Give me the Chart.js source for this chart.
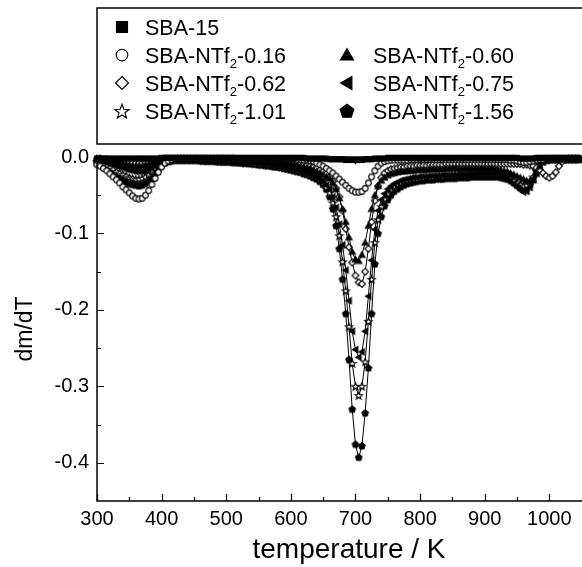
<!DOCTYPE html>
<html>
<head>
<meta charset="utf-8">
<script src="https://cdn.jsdelivr.net/npm/chart.js@4.4.1/dist/chart.umd.min.js"></script>
<style>
  html, body { margin: 0; padding: 0; background: #fff; overflow: hidden; }
  canvas { display: block; }
</style>
</head>
<body>
<canvas id="dtg" width="606" height="567"></canvas>
<script>
// temperature grid (K)
const temperature = [
  300, 305, 310, 315, 320, 325, 330, 335, 340, 345,
  350, 355, 360, 365, 370, 375, 380, 385, 390, 395,
  400, 405, 410, 415, 420, 425, 430, 435, 440, 445,
  450, 455, 460, 465, 470, 475, 480, 485, 490, 495,
  500, 505, 510, 515, 520, 525, 530, 535, 540, 545,
  550, 555, 560, 565, 570, 575, 580, 585, 590, 595,
  600, 605, 610, 615, 620, 625, 630, 635, 640, 645,
  650, 655, 660, 665, 670, 675, 680, 685, 690, 695,
  700, 705, 710, 715, 720, 725, 730, 735, 740, 745,
  750, 755, 760, 765, 770, 775, 780, 785, 790, 795,
  800, 805, 810, 815, 820, 825, 830, 835, 840, 845,
  850, 855, 860, 865, 870, 875, 880, 885, 890, 895,
  900, 905, 910, 915, 920, 925, 930, 935, 940, 945,
  950, 955, 960, 965, 970, 975, 980, 985, 990, 995,
  1000, 1005, 1010, 1015, 1020, 1025, 1030, 1035, 1040, 1045
];

// dm/dT curves
const sba15 = [
  -0.002, -0.002, -0.002, -0.002, -0.002, -0.002, -0.002, -0.002, -0.002, -0.002,
  -0.002, -0.002, -0.002, -0.002, -0.002, -0.002, -0.002, -0.002, -0.002, -0.002,
  -0.001, -0.001, -0.001, -0.001, -0.001, -0.001, -0.001, -0.001, -0.001, -0.001,
  -0.001, -0.001, -0.001, -0.001, -0.001, -0.001, -0.001, -0.001, -0.001, -0.001,
  -0.001, -0.001, -0.001, -0.001, -0.001, -0.001, -0.001, -0.001, -0.001, -0.001,
  -0.001, -0.001, -0.001, -0.001, -0.001, -0.001, -0.001, -0.001, -0.001, -0.001,
  -0.001, -0.001, -0.001, -0.001, -0.001, -0.002, -0.002, -0.002, -0.002, -0.002,
  -0.002, -0.002, -0.003, -0.003, -0.003, -0.003, -0.003, -0.004, -0.004, -0.004,
  -0.004, -0.004, -0.004, -0.003, -0.003, -0.003, -0.002, -0.002, -0.002, -0.002,
  -0.001, -0.001, -0.001, -0.001, -0.001, -0.001, -0.001, -0.001, -0.001, -0.001,
  -0.001, -0.001, -0.001, -0.001, -0.001, -0.001, -0.001, -0.001, -0.001, -0.001,
  -0.001, -0.001, -0.001, -0.001, -0.001, -0.001, -0.001, -0.001, -0.001, -0.001,
  -0.001, -0.001, -0.001, -0.001, -0.001, -0.001, -0.001, -0.001, -0.001, -0.001,
  -0.001, -0.002, -0.002, -0.002, -0.002, -0.002, -0.001, -0.001, -0.001, -0.001,
  -0.001, -0.001, -0.001, -0.001, -0.001, -0.001, -0.001, -0.001, -0.001, -0.001
];
const ntf016 = [
  -0.010, -0.012, -0.015, -0.018, -0.022, -0.026, -0.030, -0.034, -0.039, -0.043,
  -0.047, -0.051, -0.054, -0.055, -0.054, -0.050, -0.044, -0.036, -0.028, -0.020,
  -0.013, -0.008, -0.005, -0.003, -0.002, -0.002, -0.002, -0.002, -0.002, -0.002,
  -0.002, -0.002, -0.002, -0.002, -0.002, -0.002, -0.002, -0.002, -0.002, -0.002,
  -0.002, -0.002, -0.002, -0.002, -0.002, -0.002, -0.002, -0.002, -0.002, -0.002,
  -0.002, -0.002, -0.002, -0.002, -0.002, -0.002, -0.002, -0.002, -0.002, -0.002,
  -0.002, -0.002, -0.003, -0.003, -0.004, -0.004, -0.005, -0.006, -0.008, -0.010,
  -0.012, -0.015, -0.018, -0.021, -0.025, -0.029, -0.033, -0.037, -0.041, -0.044,
  -0.046, -0.046, -0.045, -0.041, -0.034, -0.026, -0.018, -0.012, -0.008, -0.006,
  -0.005, -0.004, -0.004, -0.004, -0.004, -0.004, -0.004, -0.003, -0.003, -0.003,
  -0.003, -0.003, -0.003, -0.003, -0.003, -0.003, -0.003, -0.003, -0.003, -0.003,
  -0.003, -0.003, -0.003, -0.003, -0.003, -0.003, -0.003, -0.003, -0.003, -0.003,
  -0.003, -0.003, -0.003, -0.003, -0.003, -0.003, -0.003, -0.003, -0.004, -0.004,
  -0.005, -0.006, -0.007, -0.007, -0.006, -0.005, -0.004, -0.003, -0.003, -0.002,
  -0.002, -0.002, -0.002, -0.002, -0.002, -0.002, -0.002, -0.002, -0.002, -0.002
];
const ntf060 = [
  -0.003, -0.003, -0.004, -0.004, -0.005, -0.006, -0.007, -0.008, -0.009, -0.010,
  -0.011, -0.012, -0.012, -0.012, -0.012, -0.011, -0.010, -0.008, -0.007, -0.005,
  -0.004, -0.003, -0.003, -0.002, -0.002, -0.002, -0.002, -0.002, -0.002, -0.002,
  -0.002, -0.002, -0.002, -0.002, -0.003, -0.003, -0.003, -0.003, -0.003, -0.003,
  -0.003, -0.003, -0.003, -0.004, -0.004, -0.004, -0.004, -0.004, -0.005, -0.005,
  -0.005, -0.005, -0.006, -0.006, -0.006, -0.007, -0.007, -0.008, -0.008, -0.009,
  -0.009, -0.010, -0.011, -0.012, -0.013, -0.014, -0.015, -0.017, -0.019, -0.021,
  -0.023, -0.026, -0.028, -0.034, -0.042, -0.054, -0.068, -0.085, -0.105, -0.124,
  -0.134, -0.136, -0.128, -0.112, -0.090, -0.068, -0.050, -0.038, -0.031, -0.027,
  -0.024, -0.022, -0.021, -0.020, -0.019, -0.019, -0.018, -0.018, -0.018, -0.017,
  -0.017, -0.017, -0.017, -0.016, -0.016, -0.016, -0.016, -0.016, -0.015, -0.015,
  -0.015, -0.015, -0.015, -0.015, -0.015, -0.015, -0.015, -0.015, -0.015, -0.015,
  -0.015, -0.015, -0.015, -0.015, -0.016, -0.017, -0.018, -0.019, -0.021, -0.023,
  -0.025, -0.027, -0.029, -0.031, -0.032, -0.030, -0.022, -0.012, -0.006, -0.004,
  -0.003, -0.003, -0.003, -0.003, -0.003, -0.003, -0.003, -0.003, -0.003, -0.003
];
const ntf062 = [
  -0.002, -0.002, -0.003, -0.003, -0.004, -0.004, -0.005, -0.005, -0.006, -0.006,
  -0.007, -0.007, -0.008, -0.008, -0.008, -0.007, -0.007, -0.006, -0.005, -0.004,
  -0.003, -0.002, -0.002, -0.002, -0.002, -0.002, -0.002, -0.002, -0.002, -0.002,
  -0.002, -0.002, -0.002, -0.002, -0.002, -0.002, -0.002, -0.002, -0.002, -0.002,
  -0.002, -0.002, -0.002, -0.003, -0.003, -0.003, -0.003, -0.003, -0.003, -0.003,
  -0.004, -0.004, -0.004, -0.004, -0.005, -0.005, -0.005, -0.006, -0.006, -0.006,
  -0.007, -0.007, -0.008, -0.009, -0.010, -0.011, -0.012, -0.013, -0.015, -0.017,
  -0.019, -0.022, -0.026, -0.032, -0.041, -0.052, -0.070, -0.094, -0.118, -0.138,
  -0.155, -0.164, -0.166, -0.150, -0.120, -0.085, -0.057, -0.038, -0.027, -0.021,
  -0.018, -0.016, -0.015, -0.014, -0.013, -0.013, -0.012, -0.012, -0.012, -0.011,
  -0.011, -0.011, -0.011, -0.010, -0.010, -0.010, -0.010, -0.010, -0.009, -0.009,
  -0.009, -0.009, -0.009, -0.009, -0.009, -0.009, -0.009, -0.009, -0.009, -0.009,
  -0.009, -0.009, -0.009, -0.009, -0.009, -0.009, -0.009, -0.009, -0.009, -0.009,
  -0.009, -0.009, -0.010, -0.010, -0.011, -0.012, -0.014, -0.017, -0.021, -0.025,
  -0.027, -0.025, -0.020, -0.012, -0.006, -0.003, -0.002, -0.002, -0.002, -0.002
];
const ntf075 = [
  -0.004, -0.005, -0.006, -0.007, -0.008, -0.010, -0.011, -0.013, -0.014, -0.016,
  -0.017, -0.018, -0.019, -0.019, -0.019, -0.018, -0.016, -0.014, -0.012, -0.009,
  -0.007, -0.005, -0.004, -0.003, -0.003, -0.003, -0.003, -0.003, -0.003, -0.003,
  -0.003, -0.003, -0.003, -0.004, -0.004, -0.004, -0.004, -0.004, -0.005, -0.005,
  -0.005, -0.005, -0.005, -0.006, -0.006, -0.006, -0.007, -0.007, -0.007, -0.008,
  -0.008, -0.009, -0.009, -0.010, -0.010, -0.011, -0.011, -0.012, -0.013, -0.014,
  -0.015, -0.016, -0.017, -0.018, -0.019, -0.020, -0.022, -0.024, -0.026, -0.029,
  -0.033, -0.037, -0.042, -0.052, -0.066, -0.088, -0.115, -0.148, -0.188, -0.228,
  -0.252, -0.262, -0.255, -0.228, -0.182, -0.135, -0.095, -0.070, -0.056, -0.048,
  -0.042, -0.038, -0.035, -0.033, -0.031, -0.030, -0.029, -0.028, -0.027, -0.027,
  -0.026, -0.026, -0.026, -0.025, -0.025, -0.025, -0.025, -0.024, -0.024, -0.024,
  -0.024, -0.024, -0.023, -0.023, -0.023, -0.023, -0.023, -0.023, -0.022, -0.022,
  -0.022, -0.022, -0.022, -0.022, -0.023, -0.024, -0.026, -0.028, -0.031, -0.035,
  -0.039, -0.043, -0.046, -0.045, -0.040, -0.030, -0.018, -0.009, -0.005, -0.004,
  -0.003, -0.003, -0.003, -0.003, -0.003, -0.003, -0.003, -0.003, -0.003, -0.003
];
const ntf101 = [
  -0.006, -0.008, -0.010, -0.012, -0.014, -0.016, -0.019, -0.021, -0.023, -0.025,
  -0.027, -0.028, -0.029, -0.029, -0.028, -0.026, -0.023, -0.019, -0.015, -0.011,
  -0.008, -0.006, -0.005, -0.004, -0.004, -0.004, -0.004, -0.004, -0.004, -0.004,
  -0.004, -0.004, -0.004, -0.005, -0.005, -0.005, -0.005, -0.005, -0.006, -0.006,
  -0.006, -0.006, -0.006, -0.007, -0.007, -0.007, -0.008, -0.008, -0.008, -0.009,
  -0.009, -0.010, -0.010, -0.011, -0.011, -0.012, -0.012, -0.013, -0.014, -0.015,
  -0.016, -0.017, -0.018, -0.019, -0.020, -0.021, -0.023, -0.025, -0.027, -0.030,
  -0.034, -0.040, -0.047, -0.060, -0.078, -0.103, -0.137, -0.175, -0.222, -0.270,
  -0.300, -0.312, -0.300, -0.268, -0.215, -0.160, -0.112, -0.082, -0.065, -0.055,
  -0.048, -0.043, -0.039, -0.036, -0.034, -0.032, -0.031, -0.030, -0.029, -0.029,
  -0.028, -0.028, -0.027, -0.027, -0.027, -0.026, -0.026, -0.026, -0.025, -0.025,
  -0.025, -0.025, -0.024, -0.024, -0.024, -0.024, -0.023, -0.023, -0.023, -0.023,
  -0.023, -0.023, -0.023, -0.023, -0.023, -0.024, -0.025, -0.026, -0.028, -0.031,
  -0.034, -0.036, -0.038, -0.037, -0.033, -0.026, -0.017, -0.010, -0.006, -0.004,
  -0.003, -0.003, -0.003, -0.003, -0.003, -0.003, -0.003, -0.003, -0.003, -0.003
];
const ntf156 = [
  -0.008, -0.010, -0.012, -0.015, -0.018, -0.021, -0.024, -0.027, -0.030, -0.033,
  -0.035, -0.036, -0.037, -0.038, -0.037, -0.035, -0.032, -0.027, -0.021, -0.015,
  -0.011, -0.008, -0.006, -0.005, -0.004, -0.004, -0.004, -0.004, -0.004, -0.004,
  -0.004, -0.004, -0.005, -0.005, -0.005, -0.005, -0.005, -0.006, -0.006, -0.006,
  -0.006, -0.006, -0.007, -0.007, -0.007, -0.008, -0.008, -0.008, -0.009, -0.009,
  -0.010, -0.010, -0.011, -0.011, -0.012, -0.013, -0.013, -0.014, -0.015, -0.016,
  -0.017, -0.018, -0.019, -0.020, -0.022, -0.023, -0.025, -0.027, -0.029, -0.032,
  -0.036, -0.042, -0.052, -0.068, -0.090, -0.120, -0.160, -0.205, -0.265, -0.330,
  -0.376, -0.393, -0.378, -0.335, -0.276, -0.205, -0.140, -0.100, -0.078, -0.064,
  -0.056, -0.050, -0.045, -0.042, -0.039, -0.037, -0.035, -0.034, -0.033, -0.032,
  -0.031, -0.031, -0.030, -0.030, -0.030, -0.029, -0.029, -0.029, -0.028, -0.028,
  -0.028, -0.028, -0.027, -0.027, -0.027, -0.027, -0.026, -0.026, -0.026, -0.026,
  -0.026, -0.026, -0.026, -0.026, -0.026, -0.027, -0.028, -0.029, -0.031, -0.034,
  -0.037, -0.040, -0.042, -0.040, -0.036, -0.028, -0.018, -0.010, -0.006, -0.004,
  -0.003, -0.003, -0.003, -0.003, -0.003, -0.003, -0.003, -0.003, -0.003, -0.003
];

const seriesNames = ['SBA-15', 'SBA-NTf2-0.16', 'SBA-NTf2-0.60', 'SBA-NTf2-0.62',
                     'SBA-NTf2-0.75', 'SBA-NTf2-1.01', 'SBA-NTf2-1.56'];
const seriesValues = [sba15, ntf016, ntf060, ntf062, ntf075, ntf101, ntf156];

// axis ticks
const xTicks = [300, 400, 500, 600, 700, 800, 900, 1000];
const yTicks = [0.0, -0.1, -0.2, -0.3, -0.4];

// marker shape, size in plot, size in legend, filled?
const markers = [
  ['square', 2.5, 5.5, true],
  ['circle', 2.8, 5.8, false],
  ['triUp', 3.6, 7.5, true],
  ['diamond', 3.4, 6.5, false],
  ['triLeft', 3.6, 7.5, true],
  ['star', 3.9, 7.5, false],
  ['pentagon', 3.4, 7.2, true]
];
// legend slots: [column, row]
const legendSlots = [[0, 0], [0, 1], [1, 1], [0, 2], [1, 2], [0, 3], [1, 3]];

const FONT = '"Liberation Sans", Arial, sans-serif';

function regular(g, x, y, r, n, a0) {
  for (let k = 0; k < n; k++) {
    const a = a0 + k * 2 * Math.PI / n;
    const px = x + r * Math.cos(a), py = y + r * Math.sin(a);
    if (k === 0) g.moveTo(px, py); else g.lineTo(px, py);
  }
  g.closePath();
}

function drawShape(g, shape, x, y, r, filled) {
  g.beginPath();
  if (shape === 'square') {
    g.rect(x - r, y - r, 2 * r, 2 * r);
  } else if (shape === 'circle') {
    g.arc(x, y, r, 0, Math.PI * 2);
  } else if (shape === 'diamond') {
    g.moveTo(x, y - r); g.lineTo(x + r, y); g.lineTo(x, y + r); g.lineTo(x - r, y); g.closePath();
  } else if (shape === 'triUp') {
    regular(g, x, y + r * 0.15, r, 3, -Math.PI / 2);
  } else if (shape === 'triLeft') {
    regular(g, x + r * 0.15, y, r, 3, Math.PI);
  } else if (shape === 'pentagon') {
    regular(g, x, y + r * 0.05, r, 5, -Math.PI / 2);
  } else if (shape === 'star') {
    for (let k = 0; k < 10; k++) {
      const a = -Math.PI / 2 + k * Math.PI / 5;
      const rr = k % 2 ? r * 0.42 : r;
      const px = x + rr * Math.cos(a), py = y + rr * Math.sin(a) + r * 0.1;
      if (k === 0) g.moveTo(px, py); else g.lineTo(px, py);
    }
    g.closePath();
  }
  g.fillStyle = filled ? '#000' : '#fff';
  g.fill();
  g.lineWidth = 1.15;
  g.strokeStyle = '#000';
  g.stroke();
}

function makeMarker(shape, r, filled) {
  const size = Math.ceil(r * 2 + 3);
  const c = document.createElement('canvas');
  c.width = size;
  c.height = size;
  drawShape(c.getContext('2d'), shape, size / 2, size / 2, r, filled);
  return c;
}

const datasets = seriesNames.map(function (name, i) {
  const m = markers[i];
  return {
    label: name,
    data: temperature.map(function (t, k) { return { x: t, y: seriesValues[i][k] }; }),
    borderColor: '#000',
    borderWidth: 1,
    pointStyle: makeMarker(m[0], m[1], m[3]),
    pointRadius: m[1],
    clip: false,
    tension: 0
  };
});

// label with the "2" of NTf2 set as a subscript
function drawLabel(g, text, x, baseline) {
  const parts = text.match(/^(.*NTf)2(.*)$/);
  g.fillStyle = '#000';
  g.textAlign = 'left';
  g.textBaseline = 'alphabetic';
  g.font = '21.5px ' + FONT;
  if (!parts) { g.fillText(text, x, baseline); return; }
  g.fillText(parts[1], x, baseline);
  let w = g.measureText(parts[1]).width;
  g.font = '13px ' + FONT;
  g.fillText('2', x + w, baseline + 5);
  w += g.measureText('2').width;
  g.font = '21.5px ' + FONT;
  g.fillText(parts[2], x + w, baseline);
}

const framePlugin = {
  id: 'frame',
  afterDatasetsDraw(chart) {
    const g = chart.ctx;
    const a = chart.chartArea;
    const xs = chart.scales.x, ys = chart.scales.y;
    g.save();
    g.strokeStyle = '#000';
    g.lineWidth = 1.5;
    g.strokeRect(a.left, a.top, a.right - a.left, a.bottom - a.top);
    g.lineWidth = 1.2;
    g.beginPath();
    // inward ticks, major with a minor one between
    for (let t = xTicks[0]; t <= xs.max; t += 50) {
      const px = Math.round(xs.getPixelForValue(t)) + 0.5;
      const len = (t - xTicks[0]) % 100 === 0 ? 7 : 4;
      g.moveTo(px, a.bottom); g.lineTo(px, a.bottom - len);
      g.moveTo(px, a.top); g.lineTo(px, a.top + len);
    }
    for (let k = 0; k <= 8; k++) {
      const v = -0.05 * k;
      const py = Math.round(ys.getPixelForValue(v)) + 0.5;
      const len = k % 2 === 0 ? 7 : 4;
      g.moveTo(a.left, py); g.lineTo(a.left + len, py);
      g.moveTo(a.right, py); g.lineTo(a.right - len, py);
    }
    g.stroke();
    g.restore();
  },
  afterDraw(chart) {
    const g = chart.ctx;
    g.save();
    g.strokeStyle = '#000';
    g.lineWidth = 1.5;
    g.strokeRect(97, 8, 600, 136);
    const symX = [122, 347], textX = [145, 373], rowY = [27, 55, 83, 111];
    legendSlots.forEach(function (slot, i) {
      const m = markers[i];
      const cx = symX[slot[0]], cy = rowY[slot[1]];
      drawShape(g, m[0], cx, cy, m[2], m[3]);
      drawLabel(g, seriesNames[i], textX[slot[0]], cy + 8);
    });
    g.restore();
  }
};

new Chart(document.getElementById('dtg').getContext('2d'), {
  type: 'line',
  data: { datasets: datasets },
  options: {
    responsive: false,
    animation: false,
    layout: { padding: { top: 157, right: 2, left: 0, bottom: 0 } },
    plugins: { legend: { display: false }, tooltip: { enabled: false } },
    scales: {
      x: {
        type: 'linear',
        min: 300,
        max: 1080,
        afterFit: function (scale) { scale.height = 66; },
        afterBuildTicks: function (scale) {
          scale.ticks = xTicks.map(function (v) { return { value: v }; });
        },
        grid: { display: false, drawTicks: false },
        border: { display: false },
        ticks: {
          color: '#000',
          padding: 6,
          maxRotation: 0,
          autoSkip: false,
          font: { family: FONT, size: 20 },
          callback: function (v) { return String(v); }
        },
        title: {
          display: true,
          text: 'temperature / K',
          color: '#000',
          font: { family: FONT, size: 28 },
          padding: { top: 0, bottom: 0 }
        }
      },
      y: {
        type: 'linear',
        min: -0.45,
        max: 0,
        afterFit: function (scale) { scale.width = 97; },
        afterBuildTicks: function (scale) {
          scale.ticks = yTicks.map(function (v) { return { value: v }; });
        },
        grid: { display: false, drawTicks: false },
        border: { display: false },
        ticks: {
          color: '#000',
          padding: 8,
          autoSkip: false,
          font: { family: FONT, size: 20 },
          callback: function (v) {
            const s = Number(v).toFixed(1);
            return s === '-0.0' ? '0.0' : s;
          }
        },
        title: {
          display: true,
          text: 'dm/dT',
          color: '#000',
          font: { family: FONT, size: 23 },
          padding: { top: 12, bottom: 0 }
        }
      }
    }
  },
  plugins: [framePlugin]
});
</script>
</body>
</html>
